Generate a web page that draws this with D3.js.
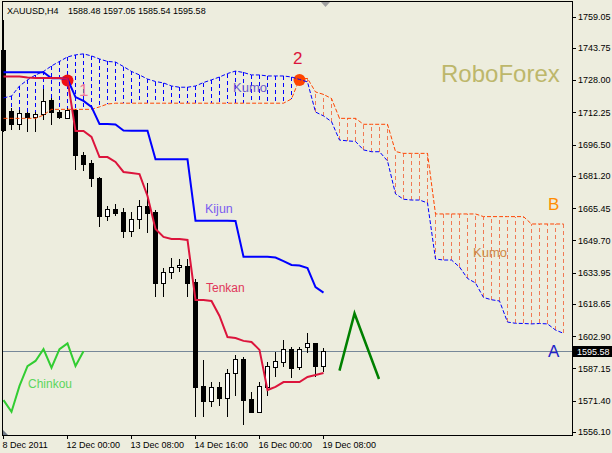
<!DOCTYPE html>
<html><head><meta charset="utf-8">
<script src="https://cdn.jsdelivr.net/npm/d3@7"></script>
<style>
html,body{margin:0;padding:0;background:#EDEDDE;}
svg{display:block;}
text{font-family:"Liberation Sans",Arial,sans-serif;}
</style></head><body>
<svg id="c" width="612" height="453"></svg>
<script>
// ---------- data ----------
const yTicks = [1759.05,1743.75,1728.00,1712.25,1696.50,1681.20,1665.45,1649.70,1633.95,1618.65,1602.90,1587.15,1571.40,1556.10];
const xTickBars = [0,8,16,24,32,40];
const xTickLabels = ["8 Dec 2011","12 Dec 00:00","13 Dec 08:00","14 Dec 16:00","16 Dec 00:00","19 Dec 08:00"];
const symbol = "XAUUSD,H4";
const ohlcText = "1588.48 1597.05 1585.54 1595.58";
const lastPrice = 1595.58;

const open  = [1742.7,1712.9,1706.6,1711.8,1709.8,1711.4,1718.3,1712.6,1709.3,1713.4,1691.4,1687.7,1680.0,1661.8,1665.0,1663.4,1654.4,1660.0,1666.5,1663.4,1629.0,1634.1,1636.6,1637.2,1629.5,1578.6,1571.4,1577.9,1572.6,1584.8,1591.6,1572.1,1566.0,1578.2,1587.7,1590.1,1596.6,1587.7,1597.5,1599.4,1588.48];
const high  = [1757.4,1714.4,1713.4,1712.4,1712.6,1723.5,1719.3,1713.4,1714.4,1713.9,1693.0,1689.0,1680.7,1666.5,1667.5,1665.4,1663.4,1669.4,1677.9,1664.5,1636.1,1641.0,1640.5,1640.5,1631.0,1591.3,1580.7,1580.7,1586.7,1593.7,1592.6,1575.8,1580.7,1590.4,1595.0,1601.0,1597.8,1597.8,1604.6,1599.4,1597.05];
const low   = [1702.7,1703.6,1703.6,1702.8,1702.8,1708.5,1706.1,1709.2,1709.0,1684.1,1683.7,1675.6,1656.4,1659.3,1661.6,1650.7,1651.2,1655.1,1653.2,1621.9,1621.9,1630.7,1634.4,1622.0,1563.3,1563.6,1568.2,1568.8,1563.6,1573.8,1559.5,1565.5,1565.2,1573.7,1583.1,1588.0,1582.3,1586.4,1594.5,1583.1,1585.54];
const close = [1703.6,1706.6,1711.8,1709.8,1711.3,1717.9,1712.3,1709.8,1713.4,1691.4,1687.0,1680.0,1661.8,1664.9,1663.2,1654.4,1660.0,1666.5,1663.2,1629.0,1634.1,1636.7,1637.5,1629.0,1578.2,1571.4,1577.9,1572.6,1584.8,1591.6,1571.7,1566.0,1578.6,1588.3,1590.8,1596.6,1587.5,1596.6,1599.4,1588.3,1595.58];

const tenkan = [1729.7,1729.7,1729.7,1729.3,1729.0,1729.0,1729.0,1729.0,1728.5,1703.1,1703.1,1700.2,1690.4,1690.4,1688.0,1683.1,1682.6,1682.1,1671.4,1655.3,1651.4,1650.4,1650.4,1649.9,1620.6,1620.6,1620.1,1612.8,1602.5,1602.0,1600.6,1600.1,1596.2,1576.6,1578.1,1580.5,1580.5,1580.5,1583.0,1583.9,1584.9];
const kijun = [1731.8,1731.8,1731.8,1731.8,1731.8,1731.8,1728.9,1728.9,1728.5,1719.7,1717.8,1714.9,1706.6,1706.6,1706.3,1703.4,1703.3,1703.3,1703.3,1689.3,1689.3,1689.3,1689.3,1689.3,1659.3,1659.3,1659.3,1659.3,1659.3,1659.2,1641.7,1641.7,1641.7,1641.7,1641.3,1639.6,1637.7,1637.4,1636.2,1626.9,1624.2];
const chinkou = [1571.7,1566.0,1578.6,1588.3,1590.8,1596.6,1587.5,1596.6,1599.4,1588.3,1595.58];

const senkouA = [1719.3,1720.2,1725.1,1728.1,1730.5,1732.2,1734.9,1737.1,1739.3,1740.3,
 1740.8,1739.8,1738.3,1737.1,1736.8,1734.6,1732.2,1730.5,1728.5,1727.3,
 1726.6,1725.1,1724.5,1724.5,1725.1,1726.8,1728.1,1729.5,1731.2,1732.4,
 1731.7,1730.5,1730.5,1730.0,1730.0,1730.0,1729.5,1728.3,1727.1,1712.4,
 1710.5,1707.7,1698.7,1698.3,1698.0,1693.9,1693.0,1693.0,1688.5,1672.4,
 1669.8,1669.4,1669.4,1668.0,1640.6,1640.1,1640.1,1636.7,1631.1,1628.9,
 1621.8,1620.7,1620.1,1609.8,1609.2,1609.1,1608.9,1609.1,1608.9,1605.9,
 1604.3];
const senkouB = [1709.3,1709.3,1709.3,1709.3,1709.3,1710.9,1713.7,1713.7,1713.7,1713.7,
 1713.7,1713.7,1714.9,1716.3,1716.7,1716.7,1716.7,1716.7,1716.7,1716.7,
 1716.7,1716.7,1716.7,1716.7,1716.7,1716.7,1716.7,1716.7,1716.7,1716.7,
 1716.7,1716.7,1716.7,1716.7,1716.7,1716.7,1718.8,1728.5,1728.8,1722.2,
 1721.0,1719.0,1709.3,1709.3,1709.3,1706.4,1706.4,1706.4,1706.4,1693.1,
 1692.2,1692.2,1692.2,1692.2,1662.6,1662.6,1662.6,1662.6,1662.6,1662.6,
 1661.3,1661.3,1661.3,1661.3,1661.3,1661.3,1657.7,1657.7,1657.7,1657.7,
 1657.7];

// annotation anchors (bar index, price)
const marker1 = [8, 1727.8];
const marker2 = [37, 1728.0];
const arrowPts = [[42.06,1586.1],[43.94,1614.0],[47.0,1582.0]];

// ---------- drawing ----------
const svg = d3.select("#c");
const x = d3.scaleLinear().domain([0,70]).range([3,563]);
const y = d3.scaleLinear().domain([1556.10,1759.05]).range([432,16.5]);
const BLUE="#0000FF", CRIMSON="#DC143C", ORANGE="#FF4500";

svg.append("rect").attr("width",612).attr("height",453).attr("fill","#EDEDDE");

// price line
const py = Math.round(y(lastPrice))+0.5;
svg.append("line").attr("x1",3).attr("x2",572).attr("y1",py).attr("y2",py)
  .attr("stroke","#778899").attr("stroke-width",1).attr("shape-rendering","crispEdges");

// cloud hatch
svg.append("g").selectAll("line").data(senkouA).join("line")
  .attr("x1",(d,i)=>x(i)+0.5).attr("x2",(d,i)=>x(i)+0.5)
  .attr("y1",d=>y(d)).attr("y2",(d,i)=>y(senkouB[i]))
  .attr("stroke",(d,i)=> d>=senkouB[i] ? BLUE : "#F07A55")
  .attr("stroke-width",1).attr("stroke-dasharray","4,3")
  .attr("shape-rendering","crispEdges");

// annotation circles (behind lines)
svg.append("circle").attr("cx",x(marker1[0])+0.5).attr("cy",y(marker1[1])).attr("r",6).attr("fill","#F01010");
svg.append("circle").attr("cx",x(marker2[0])+0.5).attr("cy",y(marker2[1])).attr("r",6).attr("fill","#FF4500");

// candles
const cg = svg.append("g");
d3.range(open.length).forEach(i=>{
  const cx = x(i);
  cg.append("line").attr("x1",cx+0.5).attr("x2",cx+0.5).attr("y1",y(high[i])).attr("y2",y(low[i]))
    .attr("stroke","#000").attr("shape-rendering","crispEdges");
  const top = y(Math.max(open[i],close[i])), bot = y(Math.min(open[i],close[i]));
  cg.append("rect").attr("x",cx-1.5).attr("y",Math.round(top)+0.5).attr("width",4)
    .attr("height",Math.max(1,Math.round(bot)-Math.round(top)))
    .attr("fill", close[i]>=open[i] ? "#FFFFFF" : "#000000").attr("stroke","#000")
    .attr("shape-rendering","crispEdges");
});

// cloud boundary lines
const ln = d3.line().x((d,i)=>x(i)+0.5).y(d=>y(d));
svg.append("path").attr("d",ln(senkouB)).attr("fill","none").attr("stroke",ORANGE)
  .attr("stroke-width",1).attr("stroke-dasharray","4,2");
svg.append("path").attr("d",ln(senkouA)).attr("fill","none").attr("stroke",BLUE)
  .attr("stroke-width",1).attr("stroke-dasharray","4,2");

// indicator lines
svg.append("path").attr("d",ln(kijun)).attr("fill","none").attr("stroke",BLUE).attr("stroke-width",2);
svg.append("path").attr("d",ln(tenkan)).attr("fill","none").attr("stroke",CRIMSON).attr("stroke-width",2);
svg.append("path").attr("d",ln(chinkou)).attr("fill","none").attr("stroke","#32CD32").attr("stroke-width",2);

// arrow
svg.append("path").attr("d",d3.line().x(d=>x(d[0])).y(d=>y(d[1]))(arrowPts))
  .attr("fill","none").attr("stroke","#008000").attr("stroke-width",2.5);

// frame
svg.append("path").attr("d","M2.5,1.5H572.5V435.5H2.5Z").attr("fill","none").attr("stroke","#000")
  .attr("shape-rendering","crispEdges");

// axes
const yAxis = d3.axisRight(y).tickValues(yTicks).tickFormat(d3.format(".2f")).tickSize(4).tickPadding(2);
const ya = svg.append("g").attr("transform","translate(572,0)").call(yAxis);
ya.select(".domain").remove();
ya.selectAll("line").attr("stroke","#000").attr("shape-rendering","crispEdges");
ya.selectAll("text").attr("font-size",9).attr("fill","#000").attr("font-family","'Liberation Sans',Arial,sans-serif");

const xAxis = d3.axisBottom(x).tickValues(xTickBars).tickFormat((d,i)=>xTickLabels[i]).tickSize(4).tickPadding(3);
const xa = svg.append("g").attr("transform","translate(0,435)").call(xAxis);
xa.select(".domain").remove();
xa.selectAll("line").attr("stroke","#000").attr("shape-rendering","crispEdges");
xa.selectAll("text").attr("font-size",9).attr("fill","#000").attr("text-anchor","start").attr("dx",-1)
  .attr("font-family","'Liberation Sans',Arial,sans-serif");

// last price label
svg.append("rect").attr("x",573).attr("y",py-5.5).attr("width",39).attr("height",11).attr("fill","#000");
svg.append("text").attr("x",577).attr("y",py+3.5).attr("font-size",9).attr("fill","#fff").text(d3.format(".2f")(lastPrice));

// header
svg.append("text").attr("x",7).attr("y",14).attr("font-size",9).attr("fill","#000").text(symbol);
svg.append("text").attr("x",68).attr("y",14).attr("font-size",9).attr("fill","#000").text(ohlcText);

// markers
svg.append("path").attr("d","M321,2H330L325.5,7Z").attr("fill","#A0A0A0");
svg.append("path").attr("d","M3,430V435H8Z").attr("fill","#6F7A86");

// labels
const lab = (t,xx,yy,size,col)=>svg.append("text").attr("x",xx).attr("y",yy).attr("font-size",size).attr("fill",col).text(t);
lab("Kumo",233,92,13,"#6A5ACD");
lab("Kijun",205,213,12.5,"#7B5CF0");
lab("Tenkan",206,291.5,12,"#E0365A");
lab("Chinkou",28,388,12,"#5CD65C");
lab("Kumo",473,257,13,"#CD8848");
lab("1",79,96,17,"#F0789A");
lab("2",293,64,17,"#DC143C");
lab("B",548,210,17,"#FF8C00");
lab("A",548,357,17,"#2323C8");
lab("RoboForex",441,82,24,"#BDB76B");
</script>
</body></html>
